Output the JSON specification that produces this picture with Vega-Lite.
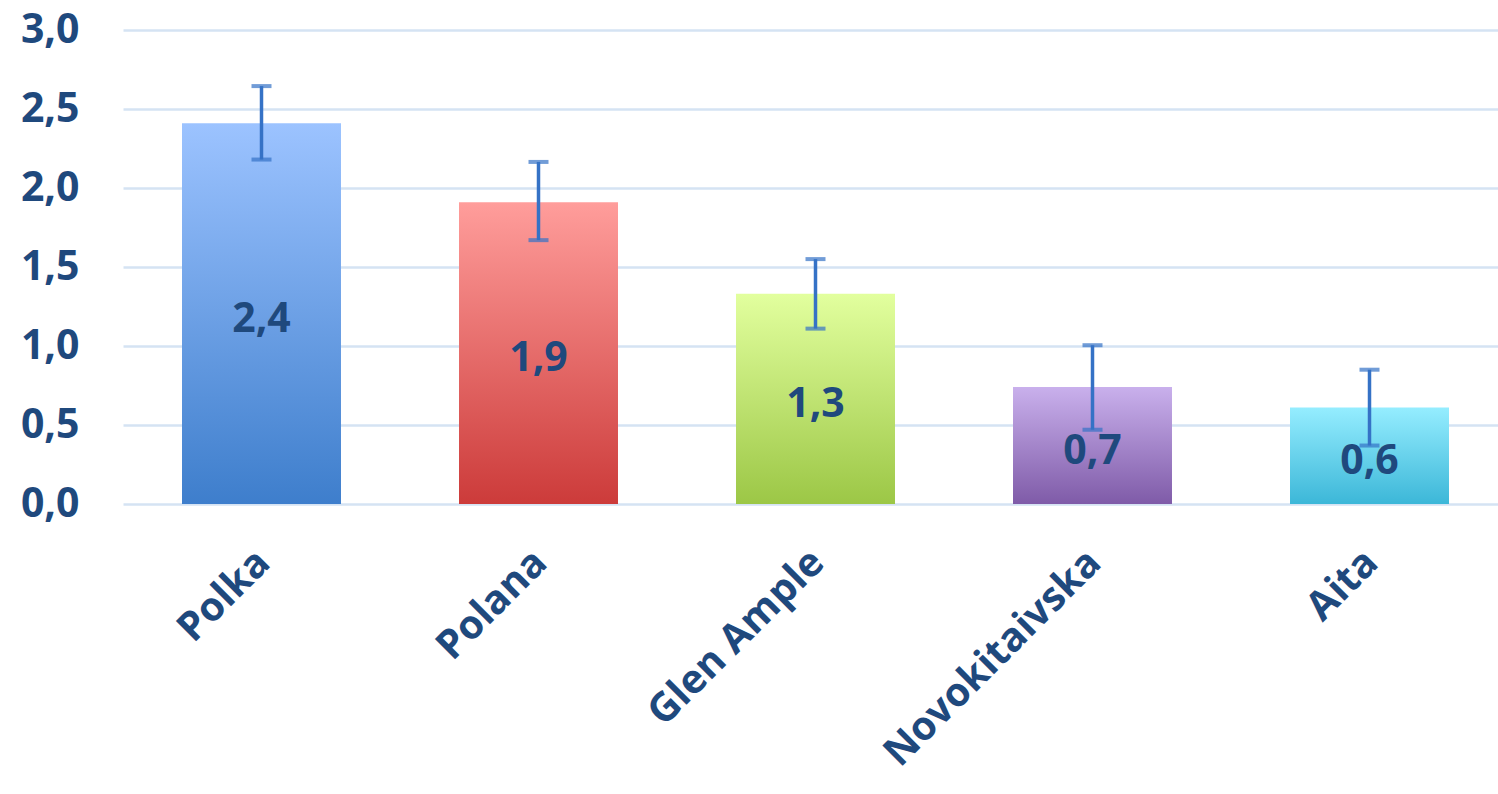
{
  "$schema": "https://vega.github.io/schema/vega-lite/v6.json",
  "autosize": "none",
  "width": 1385,
  "height": 474,
  "padding": {"left": 123, "top": 30, "right": 0, "bottom": 290},
  "background": "white",
  "config": {
    "view": {"stroke": null},
    "locale": {"number": {"decimal": ",", "thousands": ".", "grouping": [3], "currency": ["", " €"]}},
    "font": "Open Sans"
  },
  "data": {
    "values": [
      {"variety": "Polka", "value": 2.41, "lo": 2.18, "hi": 2.645},
      {"variety": "Polana", "value": 1.91, "lo": 1.67, "hi": 2.165},
      {"variety": "Glen Ample", "value": 1.33, "lo": 1.11, "hi": 1.55},
      {"variety": "Novokitaivska", "value": 0.74, "lo": 0.47, "hi": 1.005},
      {"variety": "Aita", "value": 0.61, "lo": 0.37, "hi": 0.85}
    ]
  },
  "encoding": {
    "x": {
      "field": "variety",
      "type": "nominal",
      "sort": null,
      "scale": {"paddingInner": 0.426, "paddingOuter": 0.213},
      "axis": {
        "title": null,
        "labelAngle": -45,
        "labelFont": "Open Sans",
        "labelFontWeight": "bold",
        "labelFontSize": 40,
        "labelColor": "#1f497d",
        "labelPadding": 38,
        "labelOffset": -12,
        "labelLimit": 500,
        "ticks": false,
        "domain": false
      }
    }
  },
  "layer": [
    {
      "mark": {"type": "bar", "opacity": 0},
      "encoding": {
        "y": {
          "field": "value",
          "type": "quantitative",
          "scale": {"domain": [0, 3], "nice": false},
          "axis": {
            "title": null,
            "values": [0, 0.5, 1, 1.5, 2, 2.5, 3],
            "format": ".1f",
            "labelFont": "Open Sans",
            "labelFontWeight": "bold",
            "labelFontSize": 41,
            "labelColor": "#1f497d",
            "labelPadding": 44,
            "ticks": false,
            "domain": false,
            "gridColor": "#d5e3f3",
            "gridWidth": 2.5
          }
        }
      }
    },
    {
      "transform": [{"filter": "datum.variety == 'Polka'"}],
      "mark": {"type": "bar", "color": {"gradient": "linear", "x1": 0, "y1": 0, "x2": 0, "y2": 1, "stops": [{"offset": 0, "color": "#9cc3ff"}, {"offset": 1, "color": "#3e7ecc"}]}},
      "encoding": {"y": {"field": "value", "type": "quantitative"}}
    },
    {
      "transform": [{"filter": "datum.variety == 'Polana'"}],
      "mark": {"type": "bar", "color": {"gradient": "linear", "x1": 0, "y1": 0, "x2": 0, "y2": 1, "stops": [{"offset": 0, "color": "#ff9d9b"}, {"offset": 1, "color": "#cc3b3a"}]}},
      "encoding": {"y": {"field": "value", "type": "quantitative"}}
    },
    {
      "transform": [{"filter": "datum.variety == 'Glen Ample'"}],
      "mark": {"type": "bar", "color": {"gradient": "linear", "x1": 0, "y1": 0, "x2": 0, "y2": 1, "stops": [{"offset": 0, "color": "#e2ff9e"}, {"offset": 1, "color": "#9cc746"}]}},
      "encoding": {"y": {"field": "value", "type": "quantitative"}}
    },
    {
      "transform": [{"filter": "datum.variety == 'Novokitaivska'"}],
      "mark": {"type": "bar", "color": {"gradient": "linear", "x1": 0, "y1": 0, "x2": 0, "y2": 1, "stops": [{"offset": 0, "color": "#c9b0ec"}, {"offset": 1, "color": "#7f5ba8"}]}},
      "encoding": {"y": {"field": "value", "type": "quantitative"}}
    },
    {
      "transform": [{"filter": "datum.variety == 'Aita'"}],
      "mark": {"type": "bar", "color": {"gradient": "linear", "x1": 0, "y1": 0, "x2": 0, "y2": 1, "stops": [{"offset": 0, "color": "#95edff"}, {"offset": 1, "color": "#3cb7d8"}]}},
      "encoding": {"y": {"field": "value", "type": "quantitative"}}
    },
    {
      "transform": [{"calculate": "datum.value / 2", "as": "mid"}],
      "mark": {"type": "text", "font": "Open Sans", "fontWeight": "bold", "fontSize": 41, "color": "#1f497d", "baseline": "middle", "dy": 6},
      "encoding": {
        "y": {"field": "mid", "type": "quantitative"},
        "text": {"field": "value", "type": "quantitative", "format": ".1f"}
      }
    },
    {
      "mark": {"type": "rule", "color": "#3572c6", "strokeWidth": 3.5},
      "encoding": {
        "y": {"field": "lo", "type": "quantitative"},
        "y2": {"field": "hi"}
      }
    },
    {
      "mark": {"type": "tick", "color": "#3572c6", "thickness": 4, "size": 20},
      "encoding": {"y": {"field": "lo", "type": "quantitative"}}
    },
    {
      "mark": {"type": "tick", "color": "#3572c6", "thickness": 4, "size": 20},
      "encoding": {"y": {"field": "hi", "type": "quantitative"}}
    }
  ]
}
